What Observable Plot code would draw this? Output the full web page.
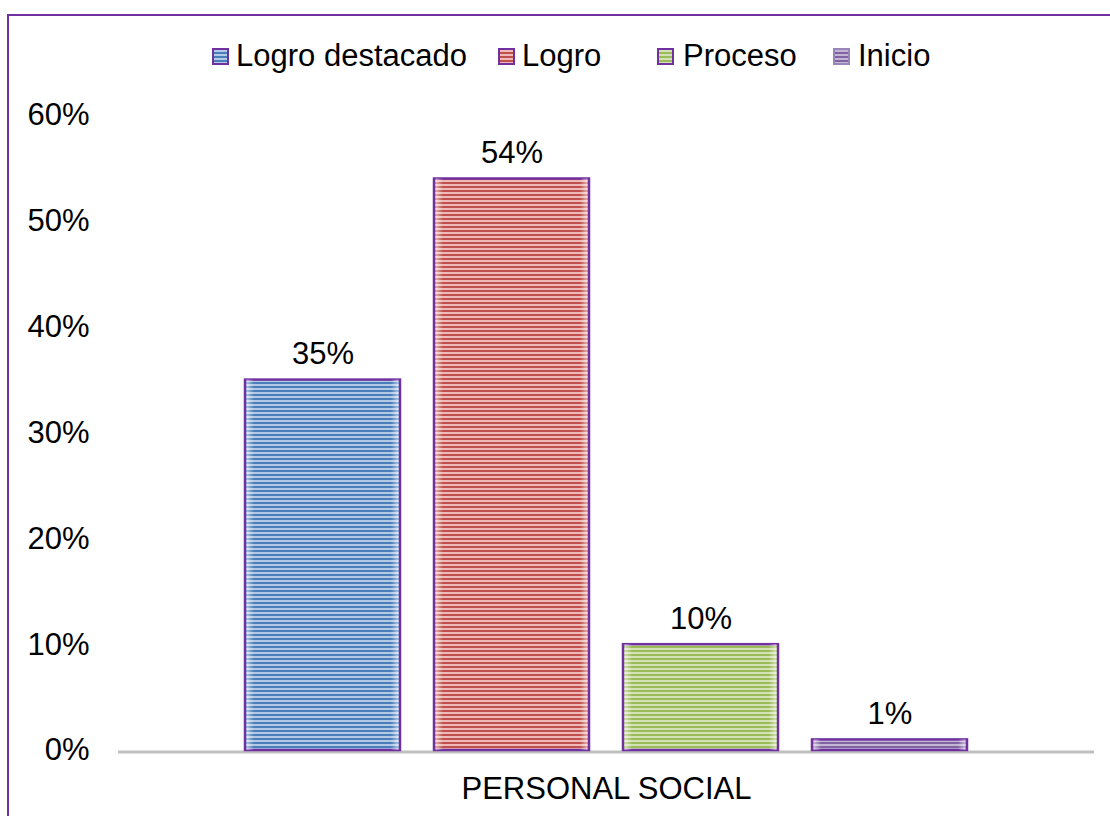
<!DOCTYPE html>
<html><head><meta charset="utf-8">
<script src="https://cdn.jsdelivr.net/npm/d3@7"></script>
<script src="https://cdn.jsdelivr.net/npm/@observablehq/plot@0.6"></script>
<style>
body{margin:0;background:#fff;font-family:"Liberation Sans",Arial,sans-serif;}
#wrap{position:relative;width:1110px;height:816px;overflow:hidden;background:#fff;}
#frame{position:absolute;left:7px;top:14px;width:1200px;height:900px;border:2px solid #7030a0;box-sizing:border-box;}
#legend{position:absolute;left:0;top:0;width:1110px;height:90px;}
.item{position:absolute;top:40px;font-size:31px;line-height:31px;color:#000;white-space:nowrap;}
.sw{position:absolute;top:48px;display:block;}
#chart{position:absolute;top:90px;left:0;}
</style></head><body>
<div id="wrap"><div id="frame"></div><div id="legend"></div><div id="chart"></div></div>
<script>
const category = ["PERSONAL SOCIAL"];
const series = ["Logro destacado", "Logro", "Proceso", "Inicio"];
const values = [35, 54, 10, 1];
const yTicks = [0, 10, 20, 30, 40, 50, 60];
const darkColors = ["#4a7ebb", "#c0504d", "#9bbb59", "#8064a2"];
const lightColors = ["#b3c9e6", "#eeb9b8", "#d3e2b6", "#c2b5d6"];
const legendSwatchX = [212, 498, 657, 833];
const legendTextX = [236, 522, 683, 858];

const data = series.map((s, i) => ({cat: category[0], series: s, value: values[i]}));

function addPatterns(defs, prefix) {
  series.forEach((s, i) => {
    const p = defs.append("pattern").attr("id", prefix + i)
      .attr("patternUnits", "userSpaceOnUse").attr("width", 8).attr("height", 4);
    p.append("rect").attr("width", 8).attr("height", 4).attr("fill", lightColors[i]);
    p.append("rect").attr("width", 8).attr("height", 2).attr("fill", darkColors[i]);
  });
  const g = defs.append("linearGradient").attr("id", prefix + "edge").attr("x1", 0).attr("x2", 1).attr("y1", 0).attr("y2", 0);
  [[0, 0.55], [0.05, 0], [0.95, 0], [1, 0.55]].forEach(([o, a]) =>
    g.append("stop").attr("offset", o).attr("stop-color", "#fff").attr("stop-opacity", a));
}

const defsMark = () => {
  const defs = d3.create("svg:defs");
  addPatterns(defs, "pat");
  return defs.node();
};

const font = '"Liberation Sans", Arial, sans-serif';

const plot = Plot.plot({
  width: 1110, height: 726,
  marginTop: 25, marginBottom: 66, marginLeft: 118, marginRight: 16,
  style: {fontFamily: font, fontSize: "31px", background: "transparent", color: "#000"},
  fx: {domain: category, padding: 0, label: null, axis: "bottom", tickSize: 0, tickPadding: 26},
  x: {domain: series, paddingInner: 0.18, paddingOuter: 0.672, axis: null},
  y: {domain: [0, 60], ticks: yTicks, tickFormat: d => d + "%", tickSize: 0, tickPadding: 29, label: null},
  color: {domain: series, range: series.map((_, i) => `url(#pat${i})`)},
  marks: [
    defsMark,
    Plot.ruleY([0], {stroke: "#bfbfbf", strokeWidth: 3, dy: 1.5}),
    Plot.barY(data, {fx: "cat", x: "series", y: "value", fill: "series", stroke: "#7030a0", strokeWidth: 2.5}),
    Plot.barY(data, {fx: "cat", x: "series", y: "value", fill: "url(#patedge)", insetLeft: 1.5, insetRight: 1.5}),
    Plot.text(data, {fx: "cat", x: "series", y: "value", text: d => d.value + "%", dy: -26, fontSize: 31, fill: "#000"})
  ]
});
document.getElementById("chart").appendChild(plot);

// Legend
const legend = d3.select("#legend");
series.forEach((s, i) => {
  const svg = legend.append("svg").attr("class", "sw").attr("width", 17).attr("height", 17)
    .style("left", legendSwatchX[i] + "px");
  const defs = svg.append("defs");
  const p = defs.append("pattern").attr("id", "lg" + i)
    .attr("patternUnits", "userSpaceOnUse").attr("width", 8).attr("height", 4);
  p.append("rect").attr("width", 8).attr("height", 4).attr("fill", lightColors[i]);
  p.append("rect").attr("width", 8).attr("height", 2).attr("fill", darkColors[i]);
  svg.append("rect").attr("x", 1).attr("y", 1).attr("width", 15).attr("height", 15)
    .attr("fill", `url(#lg${i})`).attr("stroke", i === 3 ? "#9a85b8" : "#7030a0").attr("stroke-width", 2);
  legend.append("div").attr("class", "item").style("left", legendTextX[i] + "px").text(s);
});
</script>
</body></html>
